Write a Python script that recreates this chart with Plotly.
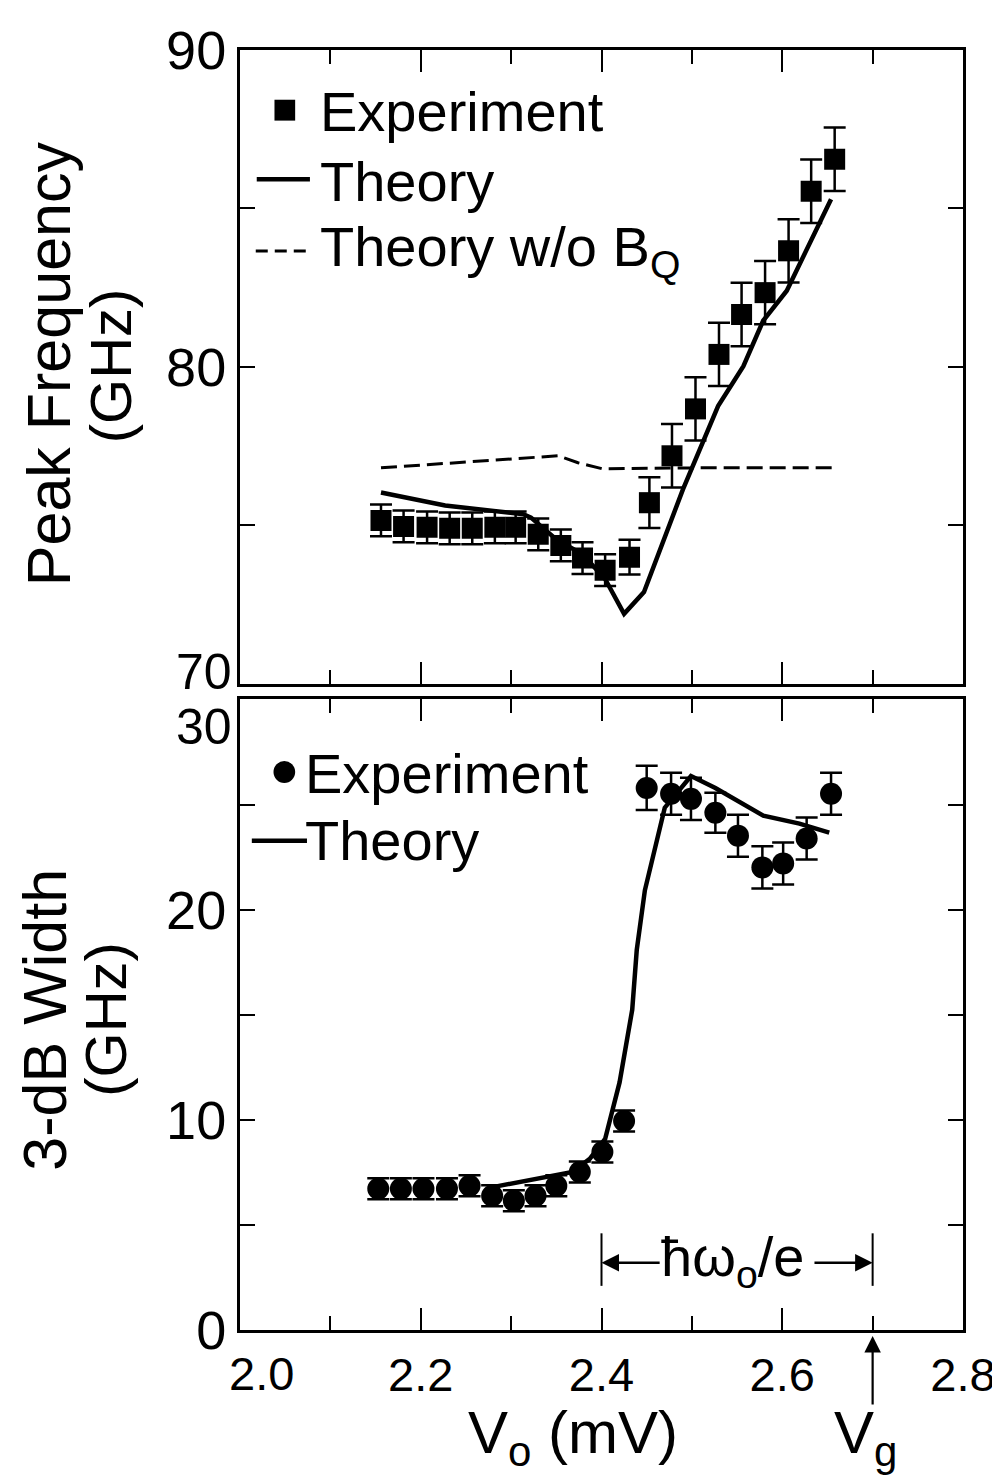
import plotly.graph_objects as go

# ---------------- data ----------------
# Top panel: peak frequency (GHz)
v_exp_top = [2.156, 2.181, 2.207, 2.232, 2.257, 2.282, 2.305, 2.330, 2.355, 2.379, 2.404,
             2.431, 2.453, 2.478, 2.504, 2.530, 2.555, 2.581, 2.607, 2.632, 2.658]
f_exp_top = [75.15, 74.96, 74.93, 74.90, 74.90, 74.93, 74.93, 74.71, 74.36, 73.96, 73.58,
             73.99, 75.71, 77.19, 78.67, 80.39, 81.65, 82.34, 83.66, 85.54, 86.55]
f_err_top = [0.5, 0.5, 0.5, 0.5, 0.5, 0.5, 0.5, 0.5, 0.5, 0.5, 0.5,
             0.55, 0.8, 1.0, 1.0, 1.0, 1.0, 1.0, 1.0, 1.0, 1.0]

v_th_top = [2.156, 2.227, 2.314, 2.322, 2.350, 2.379, 2.404, 2.425, 2.447, 2.466,
            2.490, 2.529, 2.557, 2.579, 2.605, 2.654]
f_th_top = [76.03, 75.62, 75.34, 75.24, 74.55, 74.08, 73.30, 72.20, 72.89, 74.36,
            76.12, 78.76, 80.02, 81.46, 82.40, 85.29]

v_th_noBQ = [2.156, 2.254, 2.352, 2.374, 2.401, 2.510, 2.660]
f_th_noBQ = [76.81, 77.00, 77.19, 76.97, 76.78, 76.81, 76.81]

# Bottom panel: 3-dB width (GHz)
v_exp_bot = [2.153, 2.178, 2.203, 2.229, 2.254, 2.279, 2.303, 2.327, 2.350, 2.376, 2.401,
             2.425, 2.450, 2.477, 2.499, 2.526, 2.551, 2.578, 2.601, 2.627, 2.654]
w_exp_bot = [6.72, 6.72, 6.72, 6.72, 6.86, 6.39, 6.15, 6.39, 6.86, 7.52, 8.47,
             9.94, 25.79, 25.51, 25.27, 24.61, 23.52, 22.01, 22.20, 23.38, 25.51]
w_err_bot = [0.5, 0.5, 0.5, 0.5, 0.5, 0.5, 0.5, 0.5, 0.5, 0.5, 0.5,
             0.5, 1.05, 1.0, 1.0, 0.95, 1.0, 1.0, 1.0, 1.0, 1.0]

v_th_bot = [2.281, 2.336, 2.368, 2.387, 2.404, 2.420, 2.426, 2.434, 2.439, 2.448,
            2.470, 2.499, 2.526, 2.579, 2.619, 2.652]
w_th_bot = [6.81, 7.29, 7.52, 8.14, 9.09, 11.78, 13.35, 15.24, 18.08, 20.92,
            24.85, 26.36, 25.79, 24.47, 24.09, 23.66]

# axis-end labels ("2.0", "70", "30") are drawn separately because they are displaced
x_ticks = [2.2, 2.4, 2.6, 2.8]
x_tick_text = ["2.2", "2.4", "2.6", "2.8"]
y_ticks_top = [80, 90]
y_tick_text_top = ["80", "90"]
y_ticks_bot = [0, 10, 20]
y_tick_text_bot = ["0", "10", "20"]

V_gap = 2.7          # V_g
V_start_hw = 2.4     # V_g - hbar*omega_0/e

# ---------------- layout geometry ----------------
W, H = 1000, 1479
L, R, T, B = 232, 34, 35, 157
PW, PH = W - L - R, H - T - B
FONT = "Liberation Sans, Arial, Helvetica, sans-serif"


def px_x(p):
    return (p - L) / PW


def px_y(p):
    return (H - B - p) / PH


top_dom = [px_y(672), 1.0]
bot_dom = [0.0, px_y(688)]

fig = go.Figure()

err_style = dict(type="data", visible=True, color="black", thickness=2.5, width=11)

fig.add_trace(go.Scatter(x=v_th_noBQ, y=f_th_noBQ, mode="lines", xaxis="x", yaxis="y",
                         line=dict(color="black", width=3, dash="16px,7px"), showlegend=False))
fig.add_trace(go.Scatter(x=v_th_top, y=f_th_top, mode="lines", xaxis="x", yaxis="y",
                         line=dict(color="black", width=4.5), showlegend=False))
fig.add_trace(go.Scatter(x=v_exp_top, y=f_exp_top, mode="markers", xaxis="x", yaxis="y",
                         marker=dict(symbol="square", size=21, color="black"),
                         error_y=dict(array=f_err_top, **err_style), showlegend=False))

fig.add_trace(go.Scatter(x=v_th_bot, y=w_th_bot, mode="lines", xaxis="x2", yaxis="y2",
                         line=dict(color="black", width=4.5), showlegend=False))
fig.add_trace(go.Scatter(x=v_exp_bot, y=w_exp_bot, mode="markers", xaxis="x2", yaxis="y2",
                         marker=dict(symbol="circle", size=22, color="black"),
                         error_y=dict(array=w_err_bot, **err_style), showlegend=False))

axis_common = dict(showline=True, linewidth=3, linecolor="black", mirror="ticks",
                   ticks="inside", tickcolor="black", tickwidth=2, showgrid=False,
                   zeroline=False)
xfont = dict(family=FONT, size=47, color="black")
yfont = dict(family=FONT, size=54, color="black")

fig.update_layout(
    width=W, height=H,
    margin=dict(l=L, r=R, t=T, b=B),
    paper_bgcolor="white", plot_bgcolor="white",
    font=dict(family=FONT, color="black"),
    xaxis=dict(range=[2.0, 2.8], anchor="y", domain=[0, 1], tickvals=x_ticks,
               showticklabels=False, ticklen=22, tickfont=xfont,
               minor=dict(dtick=0.1, tick0=2.0, ticklen=14, tickwidth=2, ticks="inside",
                          tickcolor="black"),
               **axis_common),
    yaxis=dict(range=[70, 90], anchor="x", domain=top_dom, tickvals=y_ticks_top,
               ticktext=y_tick_text_top, ticklen=15, ticklabelstandoff=0, tickfont=yfont,
               minor=dict(dtick=5, tick0=70, ticklen=15, tickwidth=2, ticks="inside",
                          tickcolor="black"),
               **axis_common),
    xaxis2=dict(range=[2.0, 2.8], anchor="y2", domain=[0, 1], tickvals=x_ticks,
                ticktext=x_tick_text, ticklen=22, ticklabelstandoff=2, tickfont=xfont,
                minor=dict(dtick=0.1, tick0=2.0, ticklen=14, tickwidth=2, ticks="inside",
                           tickcolor="black"),
                **axis_common),
    yaxis2=dict(range=[0, 30], anchor="x2", domain=bot_dom, tickvals=y_ticks_bot,
                ticktext=y_tick_text_bot, ticklen=15, ticklabelstandoff=0, tickfont=yfont,
                minor=dict(dtick=5, tick0=0, ticklen=15, tickwidth=2, ticks="inside",
                           tickcolor="black"),
                **axis_common),
)

annots = []
shapes = []


def text(px, py, s, size, xanchor="left", angle=0):
    annots.append(dict(x=px_x(px), y=px_y(py), xref="paper", yref="paper", text=s,
                       showarrow=False, xanchor=xanchor, yanchor="middle", textangle=angle,
                       borderpad=0, font=dict(family=FONT, size=size, color="black")))


# displaced axis-end tick labels
text(225, 660, "70", 50, xanchor="right")
text(225, 716, "30", 50, xanchor="right")
text(254, 1366, "2.0", 47, xanchor="center")

# legend, top panel
shapes.append(dict(type="rect", xref="paper", yref="paper", x0=px_x(267), x1=px_x(288),
                   y0=px_y(106), y1=px_y(85), fillcolor="black", line=dict(width=0)))
text(312, 97, "Experiment", 56)
shapes.append(dict(type="line", xref="paper", yref="paper", x0=px_x(249), x1=px_x(303),
                   y0=px_y(165), y1=px_y(165), line=dict(color="black", width=4.5)))
text(312, 167, "Theory", 56)
shapes.append(dict(type="line", xref="paper", yref="paper", x0=px_x(248), x1=px_x(300),
                   y0=px_y(237), y1=px_y(237), line=dict(color="black", width=3, dash="12px,7px")))
text(312, 237, "Theory w/o B<sub>Q</sub>", 56)

# legend, bottom panel
shapes.append(dict(type="circle", xref="paper", yref="paper", x0=px_x(266), x1=px_x(288),
                   y0=px_y(772), y1=px_y(750), fillcolor="black", line=dict(width=0)))
text(297, 762, "Experiment", 56)
shapes.append(dict(type="line", xref="paper", yref="paper", x0=px_x(244), x1=px_x(300),
                   y0=px_y(830), y1=px_y(830), line=dict(color="black", width=4.5)))
text(297, 830, "Theory", 56)

# axis titles
text(38, 350, "Peak Frequency", 61, xanchor="center", angle=-90)
text(100, 352, "(GHz)", 58, xanchor="center", angle=-90)
text(34, 1010, "3-dB Width", 61, xanchor="center", angle=-90)
text(96, 1010, "(GHz)", 58, xanchor="center", angle=-90)
text(462, 1430, "V<sub>o</sub> (mV)", 60)
text(834, 1430, "V<sub>g</sub>", 60)

# hbar omega / e annotation
y_arrow = 3.2
annots.append(dict(x=(V_start_hw + V_gap) / 2 - 0.005, y=3.3, xref="x2", yref="y2",
                   text="ħω<sub>o</sub>/e", showarrow=False, xanchor="center", yanchor="middle",
                   font=dict(family=FONT, size=56, color="black")))
annots.append(dict(x=V_start_hw, y=y_arrow, xref="x2", yref="y2", ax=V_start_hw + 0.066,
                   ay=y_arrow, axref="x2", ayref="y2", text="", showarrow=True,
                   arrowhead=2, arrowsize=1.4, arrowwidth=2.5, arrowcolor="black"))
annots.append(dict(x=V_gap, y=y_arrow, xref="x2", yref="y2", ax=V_gap - 0.066,
                   ay=y_arrow, axref="x2", ayref="y2", text="", showarrow=True,
                   arrowhead=2, arrowsize=1.4, arrowwidth=2.5, arrowcolor="black"))
for xv in (V_start_hw, V_gap):
    shapes.append(dict(type="line", xref="x2", yref="y2", x0=xv, x1=xv, y0=2.1, y1=4.6,
                       line=dict(color="black", width=2)))

# V_g arrow below axis
annots.append(dict(x=V_gap, y=px_y(1328), xref="x2", yref="paper", ax=0, ay=70,
                   text="", showarrow=True, arrowhead=2, arrowsize=1.5, arrowwidth=2.2,
                   arrowcolor="black"))

fig.update_layout(annotations=annots, shapes=shapes)

fig.write_html("out.html")
